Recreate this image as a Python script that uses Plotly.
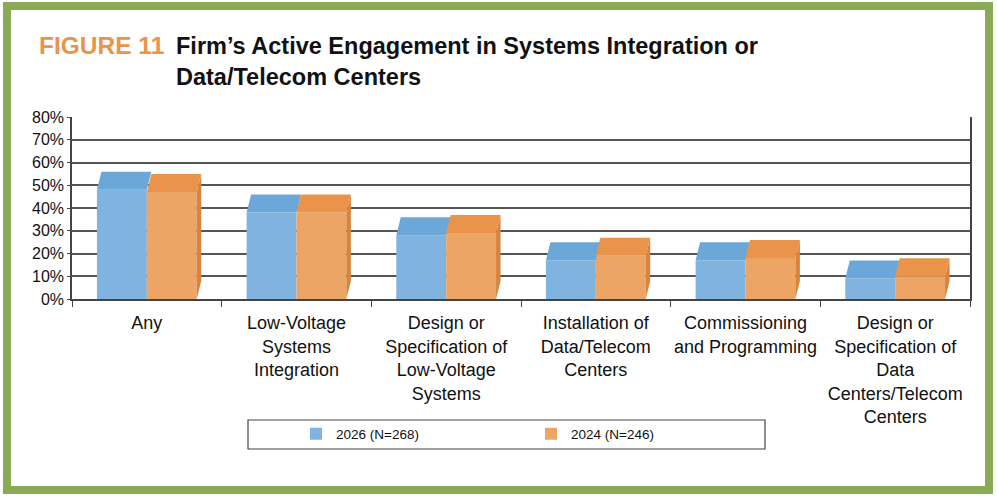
import plotly.graph_objects as go

# ---- data ----
categories = [
    "Any",
    "Low-Voltage<br>Systems<br>Integration",
    "Design or<br>Specification of<br>Low-Voltage<br>Systems",
    "Installation of<br>Data/Telecom<br>Centers",
    "Commissioning<br>and Programming",
    "Design or<br>Specification of<br>Data<br>Centers/Telecom<br>Centers",
]
values_2026 = [48, 38, 28, 17, 17, 9]
values_2024 = [47, 38, 29, 19, 18, 10]
series_names = ["2026 (N=268)", "2024 (N=246)"]
y_ticks = [0, 10, 20, 30, 40, 50, 60, 70, 80]
y_tick_labels = [f"{v}%" for v in y_ticks]

# ---- layout geometry ----
W, H = 997, 500
L, R, T, B = 72, 27, 117, 201
PW, PH = W - L - R, H - T - B


def xp(px):
    return (px - L) / PW


def yp(py):
    return (H - B - py) / PH


FONT = "Liberation Sans, Arial, Helvetica, sans-serif"
BLUE_FRONT, BLUE_TOP = "#80B3E0", "#6CA7DA"
ORANGE_FRONT, ORANGE_TOP, ORANGE_SIDE = "#EDA566", "#E9944A", "#D8843E"

BW = 1 / 3          # bar width (category units)
DX, DY = 0.03, 7.9  # 3D depth offset (x units, y units)

idx = list(range(len(categories)))

fig = go.Figure()

fig.add_trace(go.Bar(x=idx, y=values_2026, width=BW, offset=-BW, name=series_names[0],
                     marker=dict(color=BLUE_FRONT, line=dict(width=0))))
fig.add_trace(go.Bar(x=idx, y=values_2024, width=BW, offset=0, name=series_names[1],
                     marker=dict(color=ORANGE_FRONT, line=dict(width=0))))


def top_faces(vals, off):
    xs, ys = [], []
    for i, v in zip(idx, vals):
        x0, x1 = i + off, i + off + BW
        xs += [x0, x1, x1 + DX, x0 + DX, x0, None]
        ys += [v, v, v + DY, v + DY, v, None]
    return xs, ys


def side_faces(vals, off):
    xs, ys = [], []
    for i, v in zip(idx, vals):
        x1 = i + off + BW
        xs += [x1, x1, x1 + DX, x1 + DX, x1, None]
        ys += [0, v, v + DY, DY, 0, None]
    return xs, ys


sx, sy = top_faces(values_2026, -BW)
fig.add_trace(go.Scatter(x=sx, y=sy, mode="lines", fill="toself", fillcolor=BLUE_TOP,
                         line=dict(width=0, color=BLUE_TOP), showlegend=False, hoverinfo="skip"))
sx, sy = side_faces(values_2024, 0)
fig.add_trace(go.Scatter(x=sx, y=sy, mode="lines", fill="toself", fillcolor=ORANGE_SIDE,
                         line=dict(width=0, color=ORANGE_SIDE), showlegend=False, hoverinfo="skip"))
sx, sy = top_faces(values_2024, 0)
fig.add_trace(go.Scatter(x=sx, y=sy, mode="lines", fill="toself", fillcolor=ORANGE_TOP,
                         line=dict(width=0, color=ORANGE_TOP), showlegend=False, hoverinfo="skip"))

fig.update_layout(
    width=W, height=H,
    margin=dict(l=L, r=R, t=T, b=B, pad=0),
    paper_bgcolor="white", plot_bgcolor="white",
    font=dict(family=FONT, color="#111111"),
    barmode="overlay",
    xaxis=dict(
        range=[-0.5, 5.5], tickmode="array", tickvals=idx, ticktext=categories,
        ticks="", showgrid=False, zeroline=False, ticklabelstandoff=7,
        showline=True, linecolor="#444444", linewidth=1.5,
        tickfont=dict(size=18, family=FONT, color="#111111"),
        minor=dict(tickmode="linear", tick0=-0.5, dtick=1, ticks="outside",
                   ticklen=6, tickcolor="#444444", tickwidth=1.2, showgrid=False),
        fixedrange=True,
    ),
    yaxis=dict(
        range=[0, 80], tickmode="array", tickvals=y_ticks, ticktext=y_tick_labels,
        showgrid=True, gridcolor="#555555", gridwidth=1.5, zeroline=False,
        showline=True, linecolor="#444444", linewidth=1.5, mirror=True,
        ticks="outside", ticklen=3, tickcolor="#444444",
        tickfont=dict(size=16, family=FONT, color="#111111"),
        fixedrange=True,
    ),
    showlegend=True,
    legend=dict(
        orientation="h", x=xp(296), y=yp(434), xanchor="left", yanchor="middle",
        font=dict(size=13.5, family=FONT, color="#111111"),
        entrywidth=190, entrywidthmode="pixels", bgcolor="rgba(0,0,0,0)",
        borderwidth=0, traceorder="normal",
    ),
    annotations=[
        dict(text="<b>FIGURE 11</b>", xref="paper", yref="paper", x=xp(37), y=yp(45),
             xanchor="left", yanchor="middle", showarrow=False,
             font=dict(size=24.5, family=FONT, color="#E8944A")),
        dict(text="<b>Firm’s Active Engagement in Systems Integration or<br>Data/Telecom Centers</b>",
             xref="paper", yref="paper", x=xp(174), y=yp(62), xanchor="left", yanchor="middle",
             align="left", showarrow=False,
             font=dict(size=23.5, family=FONT, color="#111111")),
    ],
    shapes=[
        dict(type="rect", xref="paper", yref="paper", x0=xp(248), x1=xp(765), y0=yp(420), y1=yp(449),
             line=dict(color="#444444", width=1.2), fillcolor="rgba(0,0,0,0)", layer="below"),
        dict(type="rect", xref="paper", yref="paper", x0=xp(7), x1=xp(989), y0=yp(6), y1=yp(490),
             line=dict(color="#8AAB56", width=8), fillcolor="rgba(0,0,0,0)", layer="above"),
    ],
)

fig.write_html("out.html", config={"displayModeBar": False},
               post_script="document.body.style.margin='0';")
